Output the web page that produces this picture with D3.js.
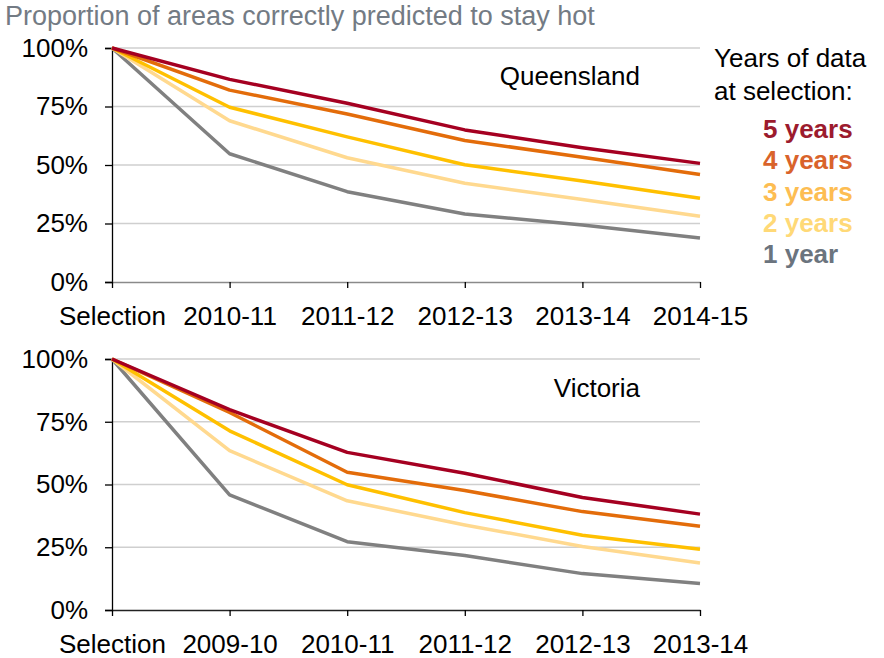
<!DOCTYPE html>
<html>
<head>
<meta charset="utf-8">
<script src="https://cdn.jsdelivr.net/npm/d3@7"></script>
<style>
body { margin: 0; background: #fff; }
svg { font-family: "Liberation Sans", Arial, sans-serif; }
</style>
</head>
<body>
<div id="plothere"></div>
<script>
var seriesNames = ["5 years", "4 years", "3 years", "2 years", "1 year"];
var lineColors = ["#a50021", "#e36c0a", "#ffc000", "#ffd98f", "#808080"];
var labelColors = ["#9c1b2e", "#d9632b", "#fdbd52", "#ffd977", "#6b747e"];
var yTicks = [0, 25, 50, 75, 100];

var qldCats = ["Selection", "2010-11", "2011-12", "2012-13", "2013-14", "2014-15"];
var qld5 = [100, 86.6, 76.4, 65.0, 57.4, 50.7];
var qld4 = [100, 82.0, 71.8, 60.5, 53.3, 45.9];
var qld3 = [100, 74.7, 62.0, 50.1, 43.2, 35.8];
var qld2 = [100, 68.9, 53.1, 42.2, 35.3, 28.1];
var qld1 = [100, 54.8, 38.6, 29.1, 24.4, 18.8];

var vicCats = ["Selection", "2009-10", "2010-11", "2011-12", "2012-13", "2013-14"];
var vic5 = [100, 79.8, 62.8, 54.5, 44.8, 38.2];
var vic4 = [100, 78.7, 54.9, 47.6, 39.2, 33.4];
var vic3 = [100, 71.4, 49.9, 38.8, 29.8, 24.2];
var vic2 = [100, 63.5, 43.5, 33.9, 25.3, 18.7];
var vic1 = [100, 45.9, 27.2, 21.7, 14.5, 10.6];

var svg = d3.select("#plothere")
	.append("svg")
	.attr("width", 884)
	.attr("height", 658);

svg.append("text")
	.attr("x", 5)
	.attr("y", 24.5)
	.attr("fill", "#737b84")
	.style("font-size", "27px")
	.text("Proportion of areas correctly predicted to stay hot");

function panel(top, bottom, cats, series, name, labelY, axisColor){
	var xs = d3.scalePoint()
		.domain(cats)
		.range([112, 700]);
	var ys = d3.scaleLinear()
		.domain([0, 100])
		.range([bottom, top]);
	var g = svg.append("g");
	// gridlines
	g.append("g")
		.selectAll("line")
		.data(yTicks.filter(d => d > 0))
		.join("line")
		.attr("x1", 112).attr("x2", 700)
		.attr("y1", d => ys(d)).attr("y2", d => ys(d))
		.attr("stroke", "#cfcfcf")
		.attr("stroke-width", 1.3);
	// y axis
	var ya = g.append("g")
		.attr("transform", "translate(112,0)")
		.call(d3.axisLeft(ys).tickValues(yTicks).tickSize(7).tickPadding(17).tickFormat(d => d + "%"));
	ya.select(".domain").attr("stroke", "#000").attr("stroke-width", 1.3);
	ya.selectAll(".tick line").attr("stroke", "#000").attr("stroke-width", 1.3);
	ya.selectAll("text").attr("fill", "#000").style("font-size", "26px").attr("font-family", "Liberation Sans, Arial, sans-serif");
	// x axis
	var xa = g.append("g")
		.attr("transform", "translate(0," + bottom + ")")
		.call(d3.axisBottom(xs).tickSize(6).tickPadding(18.5).tickSizeOuter(0));
	xa.select(".domain").attr("stroke", axisColor).attr("stroke-width", 1.5);
	xa.selectAll(".tick line").attr("stroke", "#000").attr("stroke-width", 1.3);
	xa.selectAll("text").attr("fill", "#000").style("font-size", "26px").attr("font-family", "Liberation Sans, Arial, sans-serif");
	// lines (draw 1 year first so 5 years is on top)
	var line = d3.line()
		.x((d, i) => xs(cats[i]))
		.y(d => ys(d));
	for (var k = series.length - 1; k >= 0; k--) {
		g.append("path")
			.datum(series[k])
			.attr("d", line)
			.attr("fill", "none")
			.attr("stroke", lineColors[k])
			.attr("stroke-width", 3.5)
			.attr("stroke-linejoin", "round");
	}
	g.append("text")
		.attr("x", 640)
		.attr("y", labelY)
		.attr("text-anchor", "end")
		.style("font-size", "26px")
		.text(name);
}

panel(48, 282, qldCats, [qld5, qld4, qld3, qld2, qld1], "Queensland", 85, "#8a8a8a");
panel(359, 610, vicCats, [vic5, vic4, vic3, vic2, vic1], "Victoria", 397, "#222");

// legend
svg.append("text").attr("x", 714).attr("y", 67).style("font-size", "26px").text("Years of data");
svg.append("text").attr("x", 714).attr("y", 100).style("font-size", "26px").text("at selection:");
svg.append("g")
	.selectAll("text")
	.data(seriesNames)
	.join("text")
	.attr("x", 763)
	.attr("y", (d, i) => 138 + i * 31.3)
	.attr("fill", (d, i) => labelColors[i])
	.style("font-size", "26px")
	.style("font-weight", "bold")
	.text(d => d);
</script>
</body>
</html>
